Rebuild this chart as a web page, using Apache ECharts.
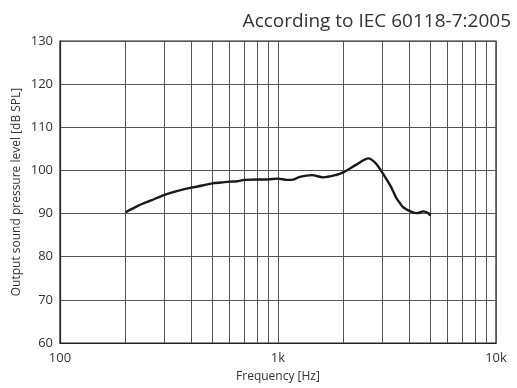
<!DOCTYPE html>
<html>
<head>
<meta charset="utf-8">
<script src="https://cdn.jsdelivr.net/npm/echarts@6/dist/echarts.min.js"></script>
<style>
  html, body { margin: 0; padding: 0; background: #fff; }
  #chart { width: 517px; height: 388px; }
</style>
</head>
<body>
<div id="chart"></div>
<script>
// frequency response
var freqs = [200, 230, 260, 300, 350, 400, 450, 500, 550, 600, 650, 700, 800, 900, 1000,
  1100, 1150, 1260, 1430, 1610, 1860, 2000, 2300, 2600, 2790, 3000, 3150, 3300, 3500,
  3630, 3760, 4100, 4330, 4640, 4890, 5000]
var levels = [90.3, 91.9, 93.0, 94.3, 95.3, 96.0, 96.5, 97.0, 97.2, 97.4, 97.5, 97.8, 97.9, 97.9, 98.1,
  97.8, 97.8, 98.5, 98.9, 98.4, 99.0, 99.6, 101.4, 102.8, 101.8, 99.6, 97.9, 96.2, 93.5,
  92.4, 91.4, 90.4, 90.1, 90.5, 90.1, 89.5]
// vertical grid lines between decades
var minorFreqs = [200, 300, 400, 500, 600, 700, 800, 900, 2000, 3000, 4000, 5000, 6000, 7000, 8000, 9000]

var font = '"Open Sans", "Noto Sans", sans-serif'
var chart = echarts.init(document.getElementById('chart'))
var option = {
  animation: false,
  title: {
    text: 'According to IEC 60118-7:2005',
    right: 1,
    top: 7,
    textStyle: { fontFamily: font, fontSize: 19, fontWeight: 'normal', color: '#333' }
  },
  grid: {
    left: 60,
    right: 21,
    top: 41,
    bottom: 43,
    show: true,
    borderColor: '#222',
    borderWidth: 1.2
  },
  xAxis: {
    type: 'log',
    logBase: 10,
    min: 100,
    max: 10000,
    name: 'Frequency [Hz]',
    nameLocation: 'middle',
    nameGap: 28,
    nameMoveOverlap: false,
    nameTextStyle: { fontFamily: font, fontSize: 12, color: '#333' },
    axisLine: { lineStyle: { color: '#222', width: 1.2 } },
    axisTick: { show: false },
    axisLabel: {
      fontFamily: font,
      fontSize: 13,
      color: '#333',
      margin: 9,
      formatter: function (v) {
        if (v >= 1000) return (v / 1000) + 'k'
        return String(v)
      }
    },
    splitLine: { show: true, lineStyle: { color: '#555', width: 1 } }
  },
  yAxis: {
    type: 'value',
    min: 60,
    max: 130,
    interval: 10,
    name: 'Output sound pressure level [dB SPL]',
    nameLocation: 'middle',
    nameGap: 37,
    nameMoveOverlap: false,
    nameTextStyle: { fontFamily: font, fontSize: 12, color: '#333' },
    axisLine: { show: true, lineStyle: { color: '#222', width: 1.2 } },
    axisTick: { show: false },
    axisLabel: { fontFamily: font, fontSize: 13, color: '#333', margin: 7 },
    splitLine: { show: true, lineStyle: { color: '#555', width: 1 } }
  },
  series: [
    {
      type: 'line',
      data: freqs.map(function (f, i) { return [f, levels[i]] }),
      showSymbol: false,
      smooth: 0.3,
      lineStyle: { color: '#1a1a1a', width: 2.4 },
      itemStyle: { color: '#1a1a1a' },
      z: 5,
      markLine: {
        silent: true,
        symbol: 'none',
        label: { show: false },
        lineStyle: { color: '#555', width: 1, type: 'solid' },
        data: minorFreqs.map(function (f) { return { xAxis: f } })
      }
    }
  ]
}
chart.setOption(option)
</script>
</body>
</html>
